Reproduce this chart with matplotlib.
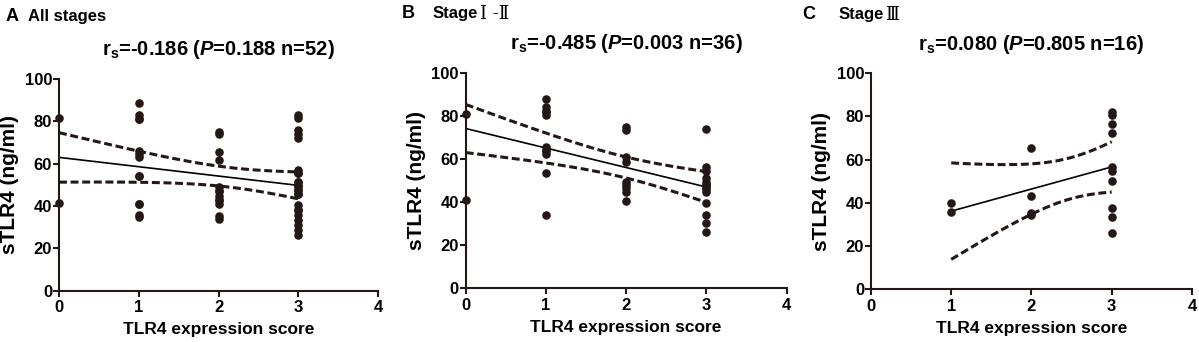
import numpy as np
import matplotlib
matplotlib.use("Agg")
import matplotlib.pyplot as plt

plt.rcParams['font.family'] = ['Liberation Sans', 'Noto Sans CJK SC', 'DejaVu Sans']
plt.rcParams['font.weight'] = 'bold'
plt.rcParams['mathtext.fontset'] = 'custom'
plt.rcParams['mathtext.rm'] = 'Liberation Sans:bold'
plt.rcParams['mathtext.it'] = 'Liberation Sans:bold:italic'
plt.rcParams['mathtext.bf'] = 'Liberation Sans:bold'

# All stages (n=52) (overlapping dots estimated)
a_x = [0, 0] + [1] * 13 + [2] * 13 + [3] * 24
a_y = [81.4, 41.6,
       88.5, 83.0, 81.0, 81.0, 66.1, 64.6, 63.0, 54.3, 54.3, 40.8, 40.8, 35.7, 34.6,
       75.0, 74.0, 65.7, 61.7, 49.1, 47.1, 47.1, 44.9, 42.8, 42.8, 40.8, 35.3, 34.0,
       83.0, 81.5, 76.0, 74.0, 72.0, 57.0, 55.5, 55.5, 51.5, 51.5, 49.5, 49.5,
       47.6, 47.6, 45.5, 45.5, 40.5, 38.0, 38.0, 35.7, 33.4, 31.0, 28.7, 26.3]

# Stage I-II (n=36)
b_x = [0, 0] + [1] * 11 + [2] * 9 + [3] * 14
b_y = [80.8, 41.0,
       87.7, 84.2, 82.4, 82.0, 80.4, 65.4, 64.0, 63.8, 62.3, 53.6, 33.9,
       75.0, 73.4, 61.0, 58.7, 49.4, 47.9, 46.4, 44.8, 40.6,
       74.0, 56.4, 54.4, 51.0, 49.4, 48.0, 47.9, 46.4, 46.0, 44.8, 39.7, 34.0, 30.1, 26.3]

# Stage III (n=16)
c_x = [1] * 2 + [2] * 4 + [3] * 10
c_y = [40.1, 35.8,
       65.3, 43.3, 35.5, 34.4,
       82.2, 80.7, 76.4, 72.2, 56.5, 54.9, 50.3, 37.5, 33.3, 25.9]

panel_letters = ['A', 'B', 'C']
panel_names = ['All stages', 'Stage', 'Stage']
panel_numerals = ['', '\u2160 -\u2161', '\u2162']
stats_titles = [r'r$_\mathrm{s}$=-0.186 ($P$=0.188 n=52)',
                r'r$_\mathrm{s}$=-0.485 ($P$=0.003 n=36)',
                r'r$_\mathrm{s}$=0.080 ($P$=0.805 n=16)']

dot_color = '#231815'

fig = plt.figure(figsize=(11.99, 3.42), dpi=100)
boxes = [[0.0492, 0.150, 0.2661, 0.619],
         [0.3884, 0.157, 0.2677, 0.630],
         [0.7264, 0.154, 0.2677, 0.632]]
letter_x = [0.005, 0.335, 0.669]
name_x = [0.023, 0.361, 0.699]
numeral_x = [0, 0.4003, 0.738]
letter_y = [0.953, 0.960, 0.957]

datasets = [(a_x, a_y), (b_x, b_y), (c_x, c_y)]

for i, (xs, ys) in enumerate(datasets):
    ax = fig.add_axes(boxes[i])
    x = np.array(xs, dtype=float)
    y = np.array(ys, dtype=float)

    # linear fit with 95% confidence band
    n = len(x)
    slope, icpt = np.polyfit(x, y, 1)
    resid = y - (icpt + slope * x)
    s = np.sqrt(np.sum(resid ** 2) / (n - 2))
    xm = x.mean()
    sxx = np.sum((x - xm) ** 2)
    t = {34: 2.032, 50: 2.009, 14: 2.145}.get(n - 2, 2.0)
    xx = np.linspace(x.min(), x.max(), 100)
    yy = icpt + slope * xx
    half = t * s * np.sqrt(1.0 / n + (xx - xm) ** 2 / sxx)

    ax.plot(xx, yy, color='black', lw=1.2, zorder=2)
    ax.plot(xx, yy + half, color=dot_color, lw=2.2, ls=(0, (2.6, 1.2)), zorder=2)
    ax.plot(xx, yy - half, color=dot_color, lw=2.2, ls=(0, (2.6, 1.2)), zorder=2)
    ax.scatter(x, y, s=38, color=dot_color, zorder=3, clip_on=False, linewidths=0)

    ax.set_xlim(0, 4)
    ax.set_ylim(0, 100)
    ax.set_xticks([0, 1, 2, 3, 4])
    ax.set_yticks([0, 20, 40, 60, 80, 100])
    for side in ['top', 'right']:
        ax.spines[side].set_visible(False)
    for side in ['left', 'bottom']:
        ax.spines[side].set_linewidth(1.5)
        ax.spines[side].set_color(dot_color)
    ax.tick_params(width=1.5, length=4, labelsize=12, color=dot_color)
    ax.tick_params(axis='x', pad=3)
    ax.tick_params(axis='y', pad=1)
    ax.set_xlabel('TLR4 expression score', fontsize=12.5, fontweight='bold', labelpad=5)
    ax.set_ylabel('sTLR4 (ng/ml)', fontsize=15, fontweight='bold')
    ax.yaxis.set_label_coords(-0.125, 0.5)

    ax.annotate(stats_titles[i], xy=(0.5, 1), xycoords='axes fraction',
                xytext=(0, 21), textcoords='offset points',
                ha='center', va='center', fontsize=14.5, fontweight='bold')

    fig.text(letter_x[i], letter_y[i], panel_letters[i], fontsize=13,
             fontweight='bold', va='center', ha='left')
    fig.text(name_x[i], letter_y[i], panel_names[i], fontsize=12,
             fontweight='bold', va='center', ha='left')
    if panel_numerals[i]:
        fig.text(numeral_x[i], letter_y[i], panel_numerals[i], fontsize=13,
                 fontweight='normal', va='center', ha='left',
                 family=['DejaVu Serif', 'Noto Sans CJK SC'])

fig.savefig('out.png', dpi=100)
